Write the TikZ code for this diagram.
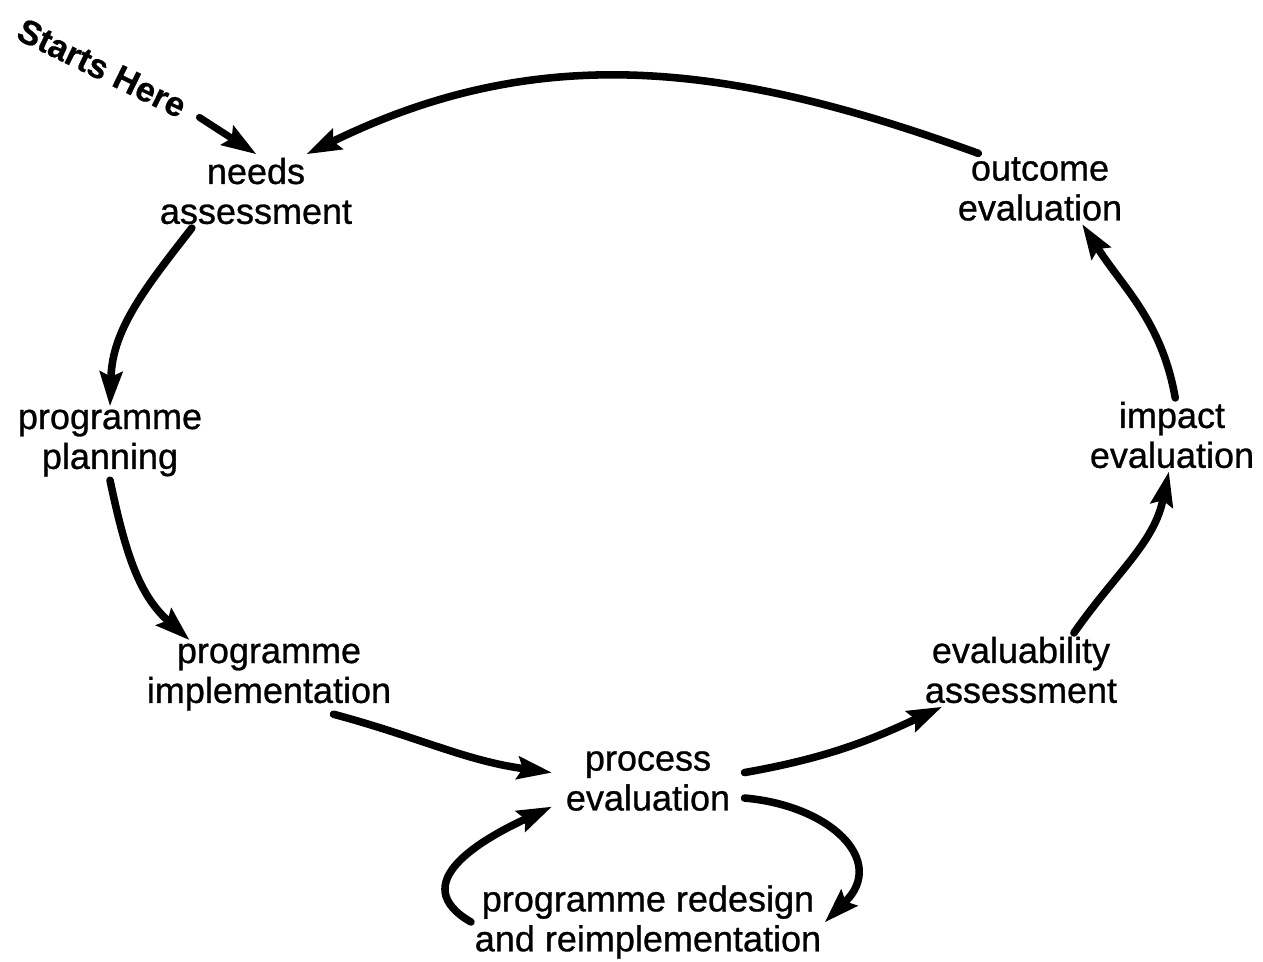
\documentclass[tikz,border=0pt]{standalone}
\usepackage{fontspec}
\setmainfont{Liberation Sans}[UprightFeatures={FakeBold=0.8}]
\newfontfamily\startsfont{Liberation Sans}[BoldFeatures={FakeBold=0.6}]
\usetikzlibrary{arrows.meta}
\begin{document}
\begin{tikzpicture}[x=0.02cm,y=0.02cm,
  txt/.style={align=center,inner sep=2pt,font=\fontsize{20.5}{22.7}\selectfont},
  conn/.style={line width=4.3pt,line cap=round,
    -{Stealth[length=0.7cm,width=0.48cm,inset=0.12cm,line width=0pt]}}]
\useasboundingbox (0,0) rectangle (1263,961);
\node[txt] (needs) at (256,770) {needs\\assessment};
\node[txt] (outcome) at (1040,772) {outcome\\evaluation};
\node[txt] (planning) at (110,518) {programme\\planning};
\node[txt] (impact) at (1172,526) {impact\\evaluation};
\node[txt] (implementation) at (269,284) {programme\\implementation};
\node[txt] (evaluability) at (1021,291) {evaluability\\assessment};
\node[txt,inner xsep=8pt] (process) at (648,180) {process\\evaluation};
\node[txt] (redesign) at (648,39) {programme redesign\\and reimplementation};
\node[rotate=-26,inner sep=2pt,font=\startsfont\bfseries\fontsize{19.5}{21}\selectfont] (starts) at (102,893) {Starts Here};

\draw[conn,shorten <=8pt,line width=4pt] (starts.east) -- (needs.north);
\draw[conn] (outcome.150) to[out=160,in=26] (needs.36);
\draw[conn] (needs.210) to[out=232,in=88] (planning.north);
\draw[conn] (planning.south) to[out=-78,in=138] (implementation.155);
\draw[conn] (implementation.-30) to[out=-15,in=172] (process.175);
\draw[conn] (process.5) to[out=10,in=205] (evaluability.205);
\draw[conn] (evaluability.35) to[out=55,in=258] (impact.265);
\draw[conn] (impact.85) to[out=100,in=303] (outcome.-40);
\draw[conn] (process.-10) to[out=-5,in=45,looseness=1.5] (redesign.east);
\draw[conn] (redesign.west) to[out=150,in=205,looseness=1.4] (process.195);
\end{tikzpicture}
\end{document}
